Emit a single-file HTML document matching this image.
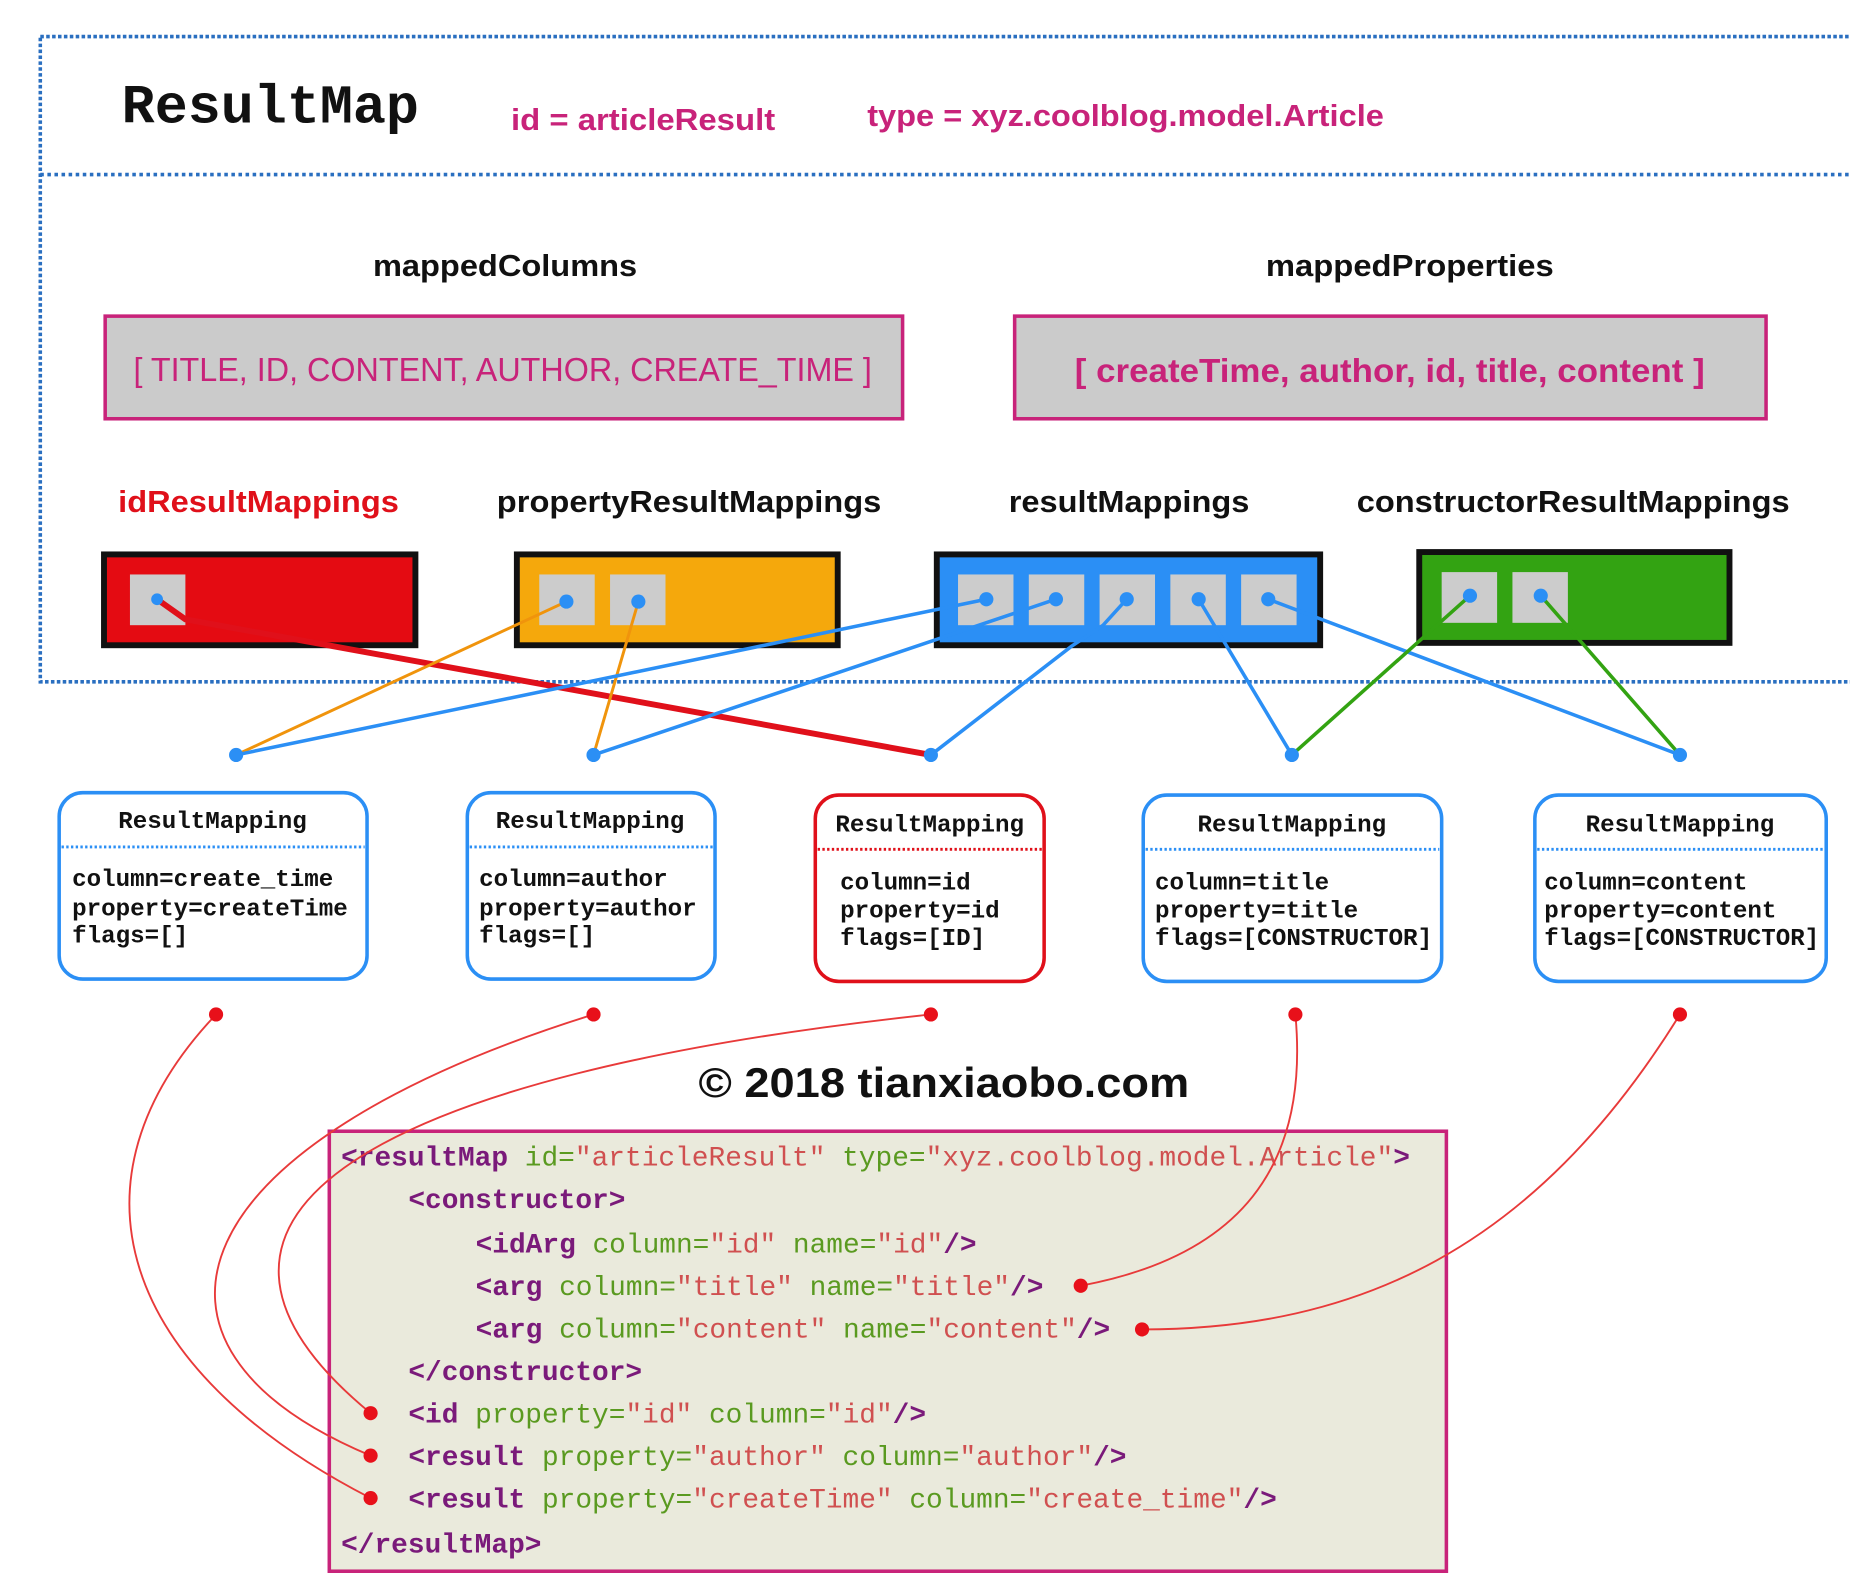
<!DOCTYPE html>
<html><head><meta charset="utf-8"><style>
html,body{margin:0;padding:0;background:#fff;}
svg{display:block}
text{font-family:"Liberation Sans",sans-serif}
.m, .m text, text.m{font-family:"Liberation Mono",monospace}
</style></head><body>
<svg width="1850" height="1596" viewBox="0 0 1568 1353" xmlns="http://www.w3.org/2000/svg">
<rect x="0" y="0" width="1568" height="1353" fill="#fff"/>
<rect x="34" y="31" width="1540" height="547" fill="none" stroke="#2a6fc0" stroke-width="3" stroke-dasharray="3,2"/>
<line x1="34" y1="148" x2="1568" y2="148" stroke="#2a6fc0" stroke-width="3" stroke-dasharray="3,3"/>
<text x="103" y="104" class="m" font-size="46" font-weight="bold" fill="#111" textLength="252" lengthAdjust="spacingAndGlyphs">ResultMap</text>
<text x="433" y="110" font-size="26" font-weight="bold" fill="#c8237a" textLength="224" lengthAdjust="spacingAndGlyphs">id = articleResult</text>
<text x="735" y="107" font-size="26" font-weight="bold" fill="#c8237a" textLength="438" lengthAdjust="spacingAndGlyphs">type = xyz.coolblog.model.Article</text>
<text x="316" y="234" font-size="26" font-weight="bold" fill="#111" textLength="224" lengthAdjust="spacingAndGlyphs">mappedColumns</text>
<text x="1073" y="234" font-size="26" font-weight="bold" fill="#111" textLength="244" lengthAdjust="spacingAndGlyphs">mappedProperties</text>
<rect x="89" y="268" width="676" height="87" fill="#cbcbcb" stroke="#c8237a" stroke-width="3"/>
<rect x="860" y="268" width="637" height="87" fill="#cbcbcb" stroke="#c8237a" stroke-width="3"/>
<text x="113" y="323" font-size="28" fill="#c8237a" textLength="626" lengthAdjust="spacingAndGlyphs">[ TITLE, ID, CONTENT, AUTHOR, CREATE_TIME ]</text>
<text x="911" y="324" font-size="28" font-weight="bold" fill="#c8237a" textLength="534" lengthAdjust="spacingAndGlyphs">[ createTime, author, id, title, content ]</text>
<text x="100" y="434" font-size="26" font-weight="bold" fill="#e0101a" textLength="238" lengthAdjust="spacingAndGlyphs">idResultMappings</text>
<text x="421" y="434" font-size="26" font-weight="bold" fill="#111" textLength="326" lengthAdjust="spacingAndGlyphs">propertyResultMappings</text>
<text x="855" y="434" font-size="26" font-weight="bold" fill="#111" textLength="204" lengthAdjust="spacingAndGlyphs">resultMappings</text>
<text x="1150" y="434" font-size="26" font-weight="bold" fill="#111" textLength="367" lengthAdjust="spacingAndGlyphs">constructorResultMappings</text>
<rect x="88" y="470" width="264" height="77" fill="#e40b12" stroke="#111" stroke-width="5"/>
<rect x="110" y="487" width="47" height="43" fill="#ccc"/>
<rect x="438" y="470" width="272" height="77" fill="#f5a80c" stroke="#111" stroke-width="5"/>
<rect x="457" y="487" width="47" height="43" fill="#ccc"/>
<rect x="517" y="487" width="47" height="43" fill="#ccc"/>
<rect x="794" y="470" width="325" height="77" fill="#2b8ff5" stroke="#111" stroke-width="5"/>
<rect x="812" y="487" width="47" height="43" fill="#ccc"/>
<rect x="872" y="487" width="47" height="43" fill="#ccc"/>
<rect x="932" y="487" width="47" height="43" fill="#ccc"/>
<rect x="992" y="487" width="47" height="43" fill="#ccc"/>
<rect x="1052" y="487" width="47" height="43" fill="#ccc"/>
<rect x="1203" y="468" width="263" height="77" fill="#33a312" stroke="#111" stroke-width="5"/>
<rect x="1222" y="485" width="47" height="43" fill="#ccc"/>
<rect x="1282" y="485" width="47" height="43" fill="#ccc"/>
<g fill="none" stroke-linecap="round">
<polyline points="133,508 157,525 789,640" stroke="#e0101a" stroke-width="5"/>
<line x1="480" y1="510" x2="200" y2="640" stroke="#f0940c" stroke-width="2.5"/>
<line x1="541" y1="510" x2="503" y2="640" stroke="#f0940c" stroke-width="2.5"/>
<line x1="836" y1="508" x2="200" y2="640" stroke="#2b8ff5" stroke-width="3"/>
<line x1="895" y1="508" x2="503" y2="640" stroke="#2b8ff5" stroke-width="3"/>
<polyline points="955,508 935,530 908,548 789,640" stroke="#2b8ff5" stroke-width="3"/>
<line x1="1016" y1="508" x2="1095" y2="640" stroke="#2b8ff5" stroke-width="3"/>
<line x1="1075" y1="508" x2="1424" y2="640" stroke="#2b8ff5" stroke-width="3"/>
<line x1="1246" y1="505" x2="1095" y2="640" stroke="#33a312" stroke-width="3"/>
<line x1="1306" y1="505" x2="1424" y2="640" stroke="#33a312" stroke-width="3"/>
</g>
<g fill="#2b8ff5">
<circle cx="133" cy="508" r="5"/><circle cx="480" cy="510" r="6"/><circle cx="541" cy="510" r="6"/>
<circle cx="836" cy="508" r="6"/><circle cx="895" cy="508" r="6"/><circle cx="955" cy="508" r="6"/><circle cx="1016" cy="508" r="6"/><circle cx="1075" cy="508" r="6"/>
<circle cx="1246" cy="505" r="6"/><circle cx="1306" cy="505" r="6"/>
<circle cx="200" cy="640" r="6"/><circle cx="503" cy="640" r="6"/><circle cx="789" cy="640" r="6"/><circle cx="1095" cy="640" r="6"/><circle cx="1424" cy="640" r="6"/>
</g>
<g class="m" font-size="20.5" font-weight="bold" fill="#111">
<rect x="50" y="672" width="261" height="158" rx="20" fill="#fff" stroke="#2b8ff5" stroke-width="3"/>
<line x1="52" y1="718" x2="309" y2="718" stroke="#2b8ff5" stroke-width="2.5" stroke-dasharray="2,2"/>
<text x="180" y="702" text-anchor="middle">ResultMapping</text>
<text x="61" y="751">column=create_time</text><text x="61" y="776">property=createTime</text><text x="61" y="799">flags=[]</text>
<rect x="396" y="672" width="210" height="158" rx="20" fill="#fff" stroke="#2b8ff5" stroke-width="3"/>
<line x1="398" y1="718" x2="604" y2="718" stroke="#2b8ff5" stroke-width="2.5" stroke-dasharray="2,2"/>
<text x="500" y="702" text-anchor="middle">ResultMapping</text>
<text x="406" y="751">column=author</text><text x="406" y="776">property=author</text><text x="406" y="799">flags=[]</text>
<rect x="691" y="674" width="194" height="158" rx="20" fill="#fff" stroke="#e0101a" stroke-width="3"/>
<line x1="693" y1="720" x2="883" y2="720" stroke="#e0101a" stroke-width="2.5" stroke-dasharray="2,2"/>
<text x="788" y="705" text-anchor="middle">ResultMapping</text>
<text x="712" y="754">column=id</text><text x="712" y="778">property=id</text><text x="712" y="801">flags=[ID]</text>
<rect x="969" y="674" width="253" height="158" rx="20" fill="#fff" stroke="#2b8ff5" stroke-width="3"/>
<line x1="971" y1="720" x2="1220" y2="720" stroke="#2b8ff5" stroke-width="2.5" stroke-dasharray="2,2"/>
<text x="1095" y="705" text-anchor="middle">ResultMapping</text>
<text x="979" y="754">column=title</text><text x="979" y="778">property=title</text><text x="979" y="801" textLength="235" lengthAdjust="spacingAndGlyphs">flags=[CONSTRUCTOR]</text>
<rect x="1301" y="674" width="247" height="158" rx="20" fill="#fff" stroke="#2b8ff5" stroke-width="3"/>
<line x1="1303" y1="720" x2="1546" y2="720" stroke="#2b8ff5" stroke-width="2.5" stroke-dasharray="2,2"/>
<text x="1424" y="705" text-anchor="middle">ResultMapping</text>
<text x="1309" y="754">column=content</text><text x="1309" y="778">property=content</text><text x="1309" y="801" textLength="233" lengthAdjust="spacingAndGlyphs">flags=[CONSTRUCTOR]</text>
</g>
<text x="592" y="930" font-size="35" font-weight="bold" fill="#111" textLength="416" lengthAdjust="spacingAndGlyphs">© 2018 tianxiaobo.com</text>
<rect x="279" y="959" width="947" height="373" fill="#eaeadc" stroke="#c8237a" stroke-width="3"/>
<g class="m" font-size="23.6">
<text x="289" y="988"><tspan fill="#7a1a7a" font-weight="bold">&lt;resultMap</tspan> <tspan fill="#5a9a20">id=</tspan><tspan fill="#d05050">"articleResult"</tspan> <tspan fill="#5a9a20">type=</tspan><tspan fill="#d05050">"xyz.coolblog.model.Article"</tspan><tspan fill="#7a1a7a" font-weight="bold">&gt;</tspan></text>
<text x="346" y="1024" fill="#7a1a7a" font-weight="bold">&lt;constructor&gt;</text>
<text x="403" y="1062"><tspan fill="#7a1a7a" font-weight="bold">&lt;idArg</tspan> <tspan fill="#5a9a20">column=</tspan><tspan fill="#d05050">"id"</tspan> <tspan fill="#5a9a20">name=</tspan><tspan fill="#d05050">"id"</tspan><tspan fill="#7a1a7a" font-weight="bold">/&gt;</tspan></text>
<text x="403" y="1098"><tspan fill="#7a1a7a" font-weight="bold">&lt;arg</tspan> <tspan fill="#5a9a20">column=</tspan><tspan fill="#d05050">"title"</tspan> <tspan fill="#5a9a20">name=</tspan><tspan fill="#d05050">"title"</tspan><tspan fill="#7a1a7a" font-weight="bold">/&gt;</tspan></text>
<text x="403" y="1134"><tspan fill="#7a1a7a" font-weight="bold">&lt;arg</tspan> <tspan fill="#5a9a20">column=</tspan><tspan fill="#d05050">"content"</tspan> <tspan fill="#5a9a20">name=</tspan><tspan fill="#d05050">"content"</tspan><tspan fill="#7a1a7a" font-weight="bold">/&gt;</tspan></text>
<text x="346" y="1170" fill="#7a1a7a" font-weight="bold">&lt;/constructor&gt;</text>
<text x="346" y="1206"><tspan fill="#7a1a7a" font-weight="bold">&lt;id</tspan> <tspan fill="#5a9a20">property=</tspan><tspan fill="#d05050">"id"</tspan> <tspan fill="#5a9a20">column=</tspan><tspan fill="#d05050">"id"</tspan><tspan fill="#7a1a7a" font-weight="bold">/&gt;</tspan></text>
<text x="346" y="1242"><tspan fill="#7a1a7a" font-weight="bold">&lt;result</tspan> <tspan fill="#5a9a20">property=</tspan><tspan fill="#d05050">"author"</tspan> <tspan fill="#5a9a20">column=</tspan><tspan fill="#d05050">"author"</tspan><tspan fill="#7a1a7a" font-weight="bold">/&gt;</tspan></text>
<text x="346" y="1278"><tspan fill="#7a1a7a" font-weight="bold">&lt;result</tspan> <tspan fill="#5a9a20">property=</tspan><tspan fill="#d05050">"createTime"</tspan> <tspan fill="#5a9a20">column=</tspan><tspan fill="#d05050">"create_time"</tspan><tspan fill="#7a1a7a" font-weight="bold">/&gt;</tspan></text>
<text x="289" y="1316" fill="#7a1a7a" font-weight="bold">&lt;/resultMap&gt;</text>
</g>
<g fill="none" stroke="#e83a3a" stroke-width="1.6">
<path d="M183 860 C 50 1000, 100 1160, 314 1270"/>
<path d="M503 860 C 150 970, 90 1140, 314 1234"/>
<path d="M789 860 C 320 910, 110 1030, 314 1198"/>
<path d="M1098 860 C 1110 990, 1050 1065, 916 1090"/>
<path d="M1424 860 C 1300 1060, 1150 1127, 968 1127"/>
</g>
<g fill="#e8101a">
<circle cx="183" cy="860" r="6"/><circle cx="503" cy="860" r="6"/><circle cx="789" cy="860" r="6"/><circle cx="1098" cy="860" r="6"/><circle cx="1424" cy="860" r="6"/>
<circle cx="916" cy="1090" r="6"/><circle cx="968" cy="1127" r="6"/>
<circle cx="314" cy="1198" r="6"/><circle cx="314" cy="1234" r="6"/><circle cx="314" cy="1270" r="6"/>
</g>
</svg>
</body></html>
